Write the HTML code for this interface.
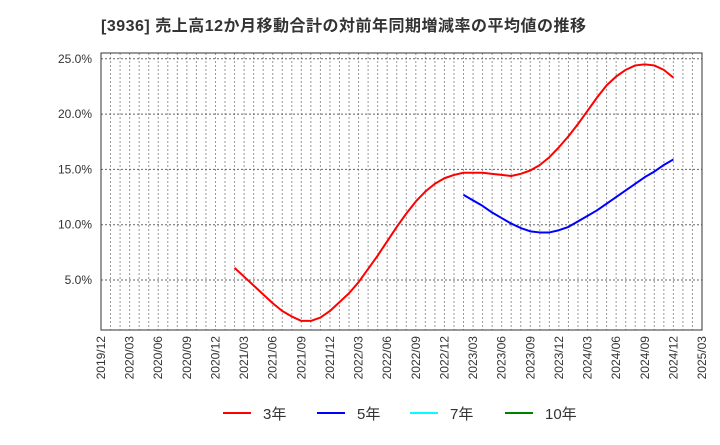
<!DOCTYPE html>
<html><head><meta charset="utf-8"><style>
body{margin:0;background:#fff;font-family:"Liberation Sans","Noto Sans CJK JP",sans-serif}
</style></head><body>
<svg width="720" height="440" xmlns="http://www.w3.org/2000/svg">
<text x="101" y="31" font-size="16" font-weight="bold" fill="#333" letter-spacing="0.5" font-family="Liberation Sans, Noto Sans CJK JP, sans-serif">[3936]  売上高12か月移動合計の対前年同期増減率の平均値の推移</text>
<g id="grid"></g>
<g id="axes"></g>
<g id="series"></g>
<g id="legend"></g>
</svg>
<script>
const xLabels=["2019/12","2020/03","2020/06","2020/09","2020/12","2021/03","2021/06","2021/09","2021/12","2022/03","2022/06","2022/09","2022/12","2023/03","2023/06","2023/09","2023/12","2024/03","2024/06","2024/09","2024/12","2025/03"];
const yTicks=[5,10,15,20,25];
const red3=[6.1,5.3,4.5,3.7,2.9,2.2,1.7,1.3,1.3,1.6,2.2,3.0,3.8,4.8,6.0,7.2,8.5,9.8,11.0,12.1,13.0,13.7,14.2,14.5,14.7,14.7,14.7,14.6,14.5,14.4,14.6,14.9,15.4,16.1,17.0,18.0,19.1,20.3,21.5,22.6,23.4,24.0,24.4,24.5,24.4,24.0,23.3];
const red3Start=14;
const blue5=[12.7,12.2,11.7,11.1,10.6,10.1,9.7,9.4,9.3,9.3,9.5,9.8,10.3,10.8,11.3,11.9,12.5,13.1,13.7,14.3,14.8,15.4,15.9];
const blue5Start=38;
const legendNames=["3年","5年","7年","10年"];
const legendColors=["#ff0000","#0000ff","#00ffff","#008000"];
const NS="http://www.w3.org/2000/svg";
const L=101,R=702,T=53,B=330,nMonths=63;
const x=m=>L+(R-L)*m/nMonths;
const y=v=>335.3-v*11.06;
function mk(tag,attrs,parent){const e=document.createElementNS(NS,tag);for(const k in attrs)e.setAttribute(k,attrs[k]);document.getElementById(parent).appendChild(e);return e;}
for(let m=1;m<nMonths;m++){
 const g=mk('line',{x1:x(m),x2:x(m),y1:T,y2:B,stroke:'#999','stroke-dasharray':'2,2','stroke-width':1},'grid');
 
 
}
yTicks.forEach(v=>{
 const g=mk('line',{x1:L,x2:R,y1:y(v),y2:y(v),stroke:'#666','stroke-dasharray':'2,2','stroke-width':1},'grid');
 
 
 const t=mk('text',{x:92,y:y(v)+4,'text-anchor':'end','font-size':12,fill:'#333'},'axes');
 t.textContent=v.toFixed(1)+'%';
 
 
});
const box=mk('rect',{x:L,y:T,width:R-L,height:B-T,fill:'none',stroke:'#333','stroke-width':1},'axes');


xLabels.forEach((s,i)=>{
 const xx=x(i*3);
 const t=mk('text',{x:0,y:0,'text-anchor':'end','font-size':12,fill:'#333',transform:`translate(${xx+4},336) rotate(-90)`},'axes');
 t.textContent=s;
 
 
});
function line(vals,start,color,name){
 const p=mk('polyline',{points:vals.map((v,i)=>x(start+i)+','+y(v)).join(' '),fill:'none',stroke:color,'stroke-width':2,'stroke-linejoin':'round'},'series');
 
 
}
line(red3,red3Start,'#ff0000','series-3yr');
line(blue5,blue5Start,'#0000ff','series-5yr');
const lx=[223,317,410,505];
legendNames.forEach((n,i)=>{
 const l=mk('line',{x1:lx[i],x2:lx[i]+28,y1:413,y2:413,stroke:legendColors[i],'stroke-width':2},'legend');
 
 
 const t=mk('text',{x:lx[i]+40,y:419,'font-size':15,fill:'#333'},'legend');
 t.textContent=n;
 
 
});
</script>
</body></html>
